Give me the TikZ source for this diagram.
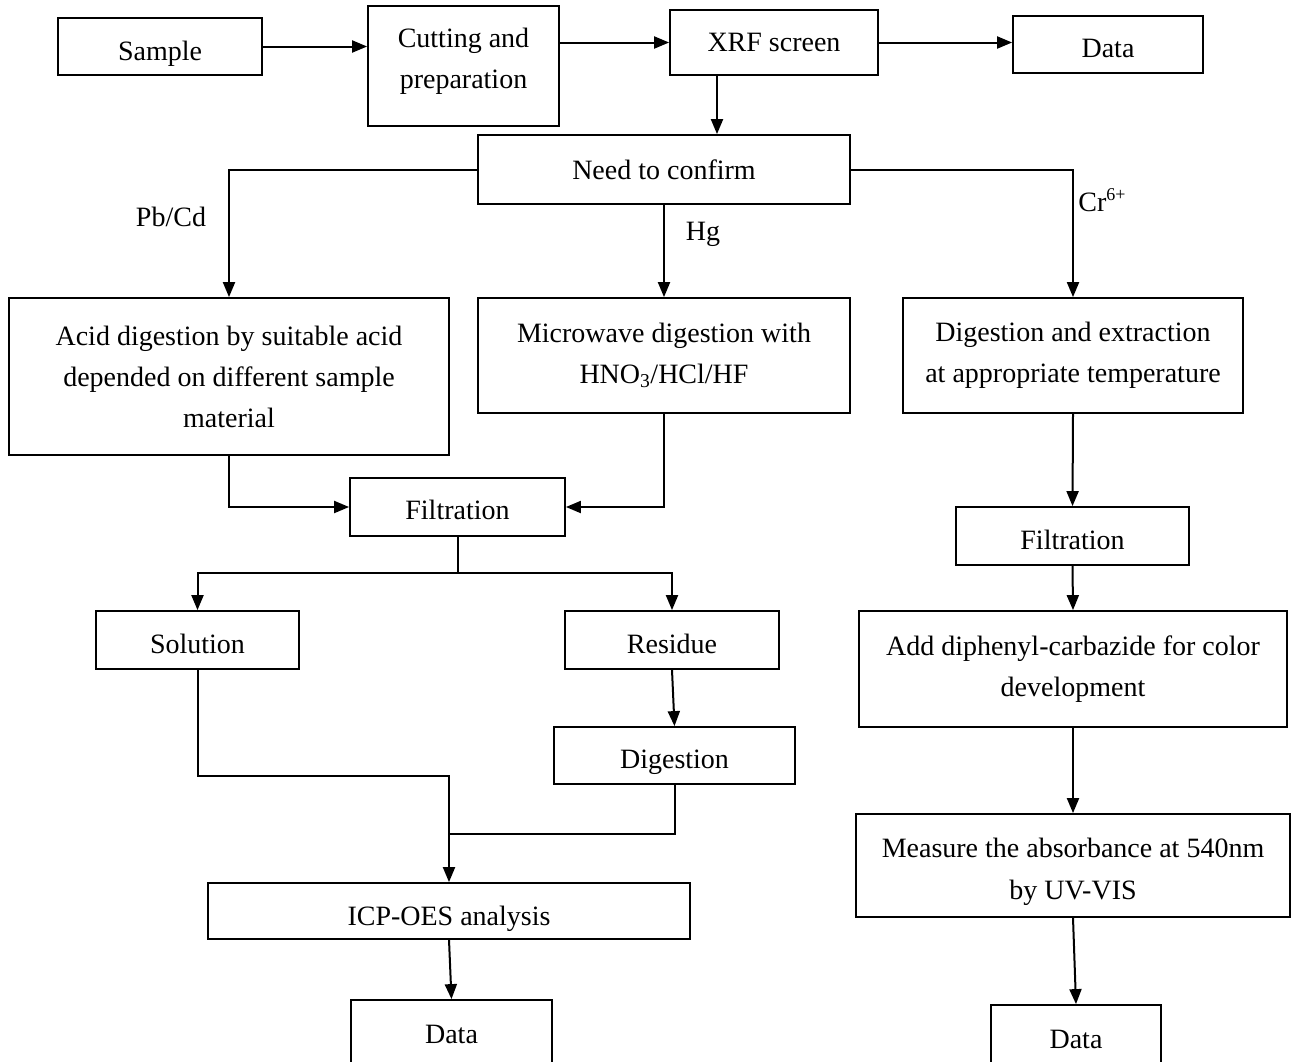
\documentclass[tikz,border=0pt]{standalone}
\usepackage{fontspec}
\setmainfont{Liberation Serif}
\usetikzlibrary{arrows.meta}
\newcommand\lowr[2]{\raisebox{-#1pt}[\height][\depth]{#2}}
\begin{document}
\begin{tikzpicture}[x=1pt,y=-1pt,
  every node/.style={font=\fontsize{28}{41}\selectfont, text=black},
  box/.style={draw=black, line width=1.8pt, inner sep=0pt, align=center, anchor=center},
  lbl/.style={inner sep=0pt, anchor=center},
  line/.style={draw=black, line width=2pt},
  arr/.style={line, -{Triangle[length=15pt,width=12pt]}}]
\useasboundingbox[fill=white] (0,0) rectangle (1292,1061);

% boxes
\node[box, minimum width=204, minimum height=57] (sample) at (160,46.5) {\lowr{7}{Sample}};
\node[box, minimum width=191, minimum height=120] (cut) at (463.5,66) {\lowr{-6}{\begin{tabular}{@{}c@{}}Cutting and\\[0.02em]preparation\end{tabular}}};
\node[box, minimum width=208, minimum height=65] (xrf) at (774,42.5) {XRF screen};
\node[box, minimum width=190, minimum height=57] (data1) at (1108,44.5) {\lowr{4}{Data}};
\node[box, minimum width=372, minimum height=69] (confirm) at (664,169.5) {Need to confirm};

\node[box, minimum width=440, minimum height=157] (acid) at (229,376.5) {Acid digestion by suitable acid\\depended on different sample\\material};
\node[box, minimum width=372, minimum height=115] (micro) at (664,355.5) {Microwave digestion with\\HNO\textsubscript{3}/HCl/HF};
\node[box, minimum width=340, minimum height=115] (digext) at (1073,355.5) {Digestion and extraction\\at appropriate temperature};

\node[box, minimum width=215, minimum height=58] (filt1) at (457.5,507) {\lowr{3}{Filtration}};
\node[box, minimum width=233, minimum height=58] (filt2) at (1072.5,536) {\lowr{4}{Filtration}};
\node[box, minimum width=203, minimum height=58] (solution) at (197.5,640) {\lowr{4}{Solution}};
\node[box, minimum width=214, minimum height=58] (residue) at (672,640) {\lowr{4}{Residue}};
\node[box, minimum width=428, minimum height=116] (add) at (1073,669) {Add diphenyl-carbazide for color\\development};
\node[box, minimum width=241, minimum height=57] (dig) at (674.5,755.5) {\lowr{7}{Digestion}};
\node[box, minimum width=434, minimum height=103] (measure) at (1073,865.5) {\lowr{5}{\begin{tabular}{@{}c@{}}Measure the absorbance at 540nm\\[0.02em]by UV-VIS\end{tabular}}};
\node[box, minimum width=482, minimum height=56] (icp) at (449,911) {\lowr{8}{ICP-OES analysis}};
\node[box, minimum width=201, minimum height=68] (data2) at (451.5,1034) {Data};
\node[box, minimum width=170, minimum height=68] (data3) at (1076,1039) {Data};

% labels
\node[lbl] (lpb) at (171,217) {Pb/Cd};
\node[lbl] (lhg) at (703,232) {\lowr{2}{Hg}};
\node[lbl] (lcr) at (1102,200) {Cr\raisebox{11pt}{\fontsize{18}{18}\selectfont 6+}};

% helper coordinates
\coordinate (c1) at (717,0);
\coordinate (split) at (457.5,573);
\coordinate (j1) at (449,776);
\coordinate (j2) at (449,834);

% connectors top row
\draw[arr] (sample.east) -- (sample.east -| cut.west);
\draw[arr] (cut.east |- xrf.west) -- (xrf.west);
\draw[arr] (xrf.east) -- (xrf.east -| data1.west);
\draw[arr] (xrf.south -| c1) -- (confirm.north -| c1);

% branches
\draw[arr] (confirm.west) -| (acid.north);
\draw[arr] (confirm.south) -- (micro.north);
\draw[arr] (confirm.east) -| (digext.north);

% left branch
\draw[arr] (acid.south) |- (filt1.west);
\draw[arr] (micro.south) |- (filt1.east);
\draw[line] (filt1.south) -- (split);
\draw[arr] (split) -| (solution.north);
\draw[arr] (split) -| (residue.north);
\draw[arr] (residue.south) -- (dig.north);
\draw[arr] (solution.south) |- (j1) -- (icp.north);
\draw[line] (dig.south) |- (j2);
\draw[arr] (icp.south) -- (data2.north);

% right branch
\draw[arr] (digext.south) -- (filt2.north);
\draw[arr] (filt2.south) -- (add.north);
\draw[arr] (add.south) -- (measure.north);
\draw[arr] (measure.south) -- (data3.north);
\end{tikzpicture}
\end{document}
